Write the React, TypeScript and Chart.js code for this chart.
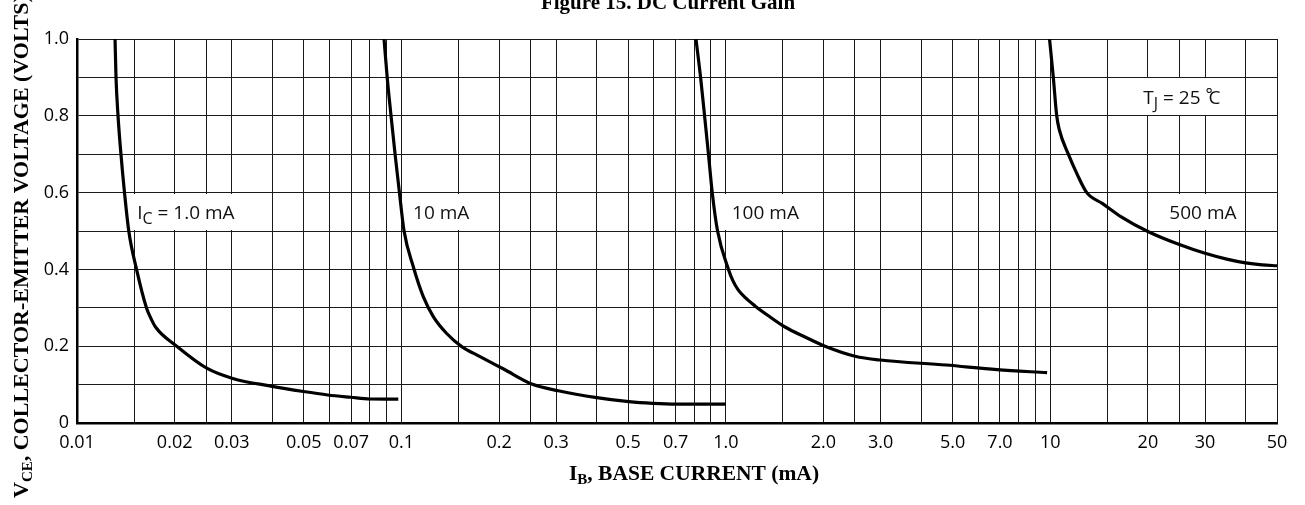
import React, { useEffect, useRef } from "react";
import { Chart, registerables } from "chart.js";

Chart.register(...registerables);

// ---------- data ----------
const xGridValues = [
  0.01, 0.015, 0.02, 0.025, 0.03, 0.04, 0.05, 0.06, 0.07, 0.08, 0.09,
  0.1, 0.15, 0.2, 0.25, 0.3, 0.4, 0.5, 0.6, 0.7, 0.8, 0.9,
  1, 1.5, 2, 2.5, 3, 4, 5, 6, 7, 8, 9,
  10, 15, 20, 25, 30, 40, 50,
];
const xTickValues = [0.01, 0.02, 0.03, 0.05, 0.07, 0.1, 0.2, 0.3, 0.5, 0.7, 1, 2, 3, 5, 7, 10, 20, 30, 50];
const xTickLabels = ["0.01", "0.02", "0.03", "0.05", "0.07", "0.1", "0.2", "0.3", "0.5", "0.7", "1.0", "2.0", "3.0", "5.0", "7.0", "10", "20", "30", "50"];
const yTickValues = [0, 0.2, 0.4, 0.6, 0.8, 1.0];
const yTickLabels = ["0", "0.2", "0.4", "0.6", "0.8", "1.0"];

// IC = 1.0 mA
const ic1IB = [0.0131, 0.01319, 0.01338, 0.01366, 0.01401, 0.01444, 0.01526, 0.01637, 0.0168, 0.01746, 0.0203, 0.0252, 0.0302, 0.0396, 0.0499, 0.0593, 0.0698, 0.08, 0.0978];
const ic1VCE = [1.0, 0.9, 0.8, 0.7, 0.6, 0.5, 0.4, 0.3, 0.277, 0.25, 0.2, 0.142, 0.116, 0.096, 0.082, 0.073, 0.067, 0.0625, 0.062];
// IC = 10 mA
const ic10IB = [0.0884, 0.0904, 0.0929, 0.0956, 0.0986, 0.1019, 0.1088, 0.1168, 0.1254, 0.1379, 0.1534, 0.1747, 0.2072, 0.2522, 0.3045, 0.3999, 0.502, 0.5953, 0.7039, 1.0];
const ic10VCE = [1.0, 0.9, 0.8, 0.7, 0.6, 0.5, 0.407, 0.329, 0.277, 0.233, 0.199, 0.173, 0.14, 0.1016, 0.084, 0.066, 0.0555, 0.051, 0.049, 0.049];
// IC = 100 mA
const ic100IB = [0.809, 0.836, 0.86, 0.884, 0.908, 0.943, 1.019, 1.052, 1.093, 1.146, 1.23, 1.349, 1.522, 1.754, 2.022, 2.502, 2.99, 4.77, 6.855, 9.78];
const ic100VCE = [1.0, 0.9, 0.8, 0.7, 0.6, 0.5, 0.4, 0.37, 0.346, 0.327, 0.305, 0.28, 0.25, 0.224, 0.2, 0.174, 0.164, 0.151, 0.139, 0.131];
// IC = 500 mA
const ic500IB = [9.95, 10.22, 10.47, 10.67, 11.37, 12.07, 12.96, 14.5, 16.5, 20, 25, 30, 35, 40, 45, 50];
const ic500VCE = [1.0, 0.9, 0.8, 0.763, 0.7, 0.65, 0.6, 0.5714, 0.5375, 0.4987, 0.4646, 0.4419, 0.4268, 0.4169, 0.4117, 0.4095];

const titleText = "Figure 15. DC Current Gain";

// ---------- text annotations ----------
type Part = { t: string; k?: "sub" | "sup"; adv?: number };
type Box = { parts: Part[]; textX: number; x1: number; x2: number; yTop: number; yBot: number };

const labelBoxes: Box[] = [
  { parts: [{ t: "I" }, { t: "C", k: "sub" }, { t: " = 1.0 mA" }], textX: 0.01533, x1: 0.0145, x2: 0.037, yTop: 0.6, yBot: 0.5 },
  { parts: [{ t: "10 mA" }], textX: 0.1086, x1: 0.104, x2: 0.19, yTop: 0.6, yBot: 0.5 },
  { parts: [{ t: "100 mA" }], textX: 1.043, x1: 0.965, x2: 1.9, yTop: 0.6, yBot: 0.5 },
  { parts: [{ t: "500 mA" }], textX: 23.29, x1: 21, x2: 38, yTop: 0.6, yBot: 0.5 },
  { parts: [{ t: "T" }, { t: "J", k: "sub" }, { t: " = 25 " }, { t: "°", k: "sup", adv: 3 }, { t: "C" }], textX: 19.36, x1: 16, x2: 38, yTop: 0.9, yBot: 0.8 },
];

const SANS = '"Open Sans", "Noto Sans", sans-serif';
const SERIF = '"Liberation Serif", "Times New Roman", serif';

type Fonts = { main: string; sub: string; subDy: number; sup: string; supDy: number };

function drawRich(ctx: CanvasRenderingContext2D, parts: Part[], x: number, y: number, f: Fonts) {
  let cx = x;
  for (const p of parts) {
    ctx.font = p.k === "sub" ? f.sub : p.k === "sup" ? f.sup : f.main;
    const w = ctx.measureText(p.t).width;
    const dy = p.k === "sub" ? f.subDy : p.k === "sup" ? f.supDy : 0;
    ctx.fillText(p.t, cx, y + dy);
    cx += p.adv !== undefined ? p.adv : w;
  }
  return cx - x;
}

function measureRich(ctx: CanvasRenderingContext2D, parts: Part[], f: Fonts) {
  let w = 0;
  for (const p of parts) {
    ctx.font = p.k === "sub" ? f.sub : p.k === "sup" ? f.sup : f.main;
    w += p.adv !== undefined ? p.adv : ctx.measureText(p.t).width;
  }
  return w;
}

const annoFonts: Fonts = {
  main: `19px ${SANS}`,
  sub: `16px ${SANS}`,
  subDy: 5,
  sup: `17px ${SANS}`,
  supDy: -4,
};
const xTitleFonts: Fonts = {
  main: `bold 21.5px ${SERIF}`,
  sub: `bold 15px ${SERIF}`,
  subDy: 4,
  sup: `bold 15px ${SERIF}`,
  supDy: -6,
};
const yTitleFonts: Fonts = {
  main: `bold 22px ${SERIF}`,
  sub: `bold 15px ${SERIF}`,
  subDy: 4,
  sup: `bold 15px ${SERIF}`,
  supDy: -6,
};

const yTitleParts: Part[] = [{ t: "V" }, { t: "CE", k: "sub" }, { t: ", COLLECTOR-EMITTER VOLTAGE (VOLTS)" }];
const xTitleParts: Part[] = [{ t: "I" }, { t: "B", k: "sub" }, { t: ", BASE CURRENT (mA)" }];

const decorPlugin = {
  id: "decor",
  beforeDatasetsDraw(chart: any) {
    const { ctx, scales } = chart;
    const x = scales.x;
    const y = scales.y;
    ctx.save();
    for (const b of labelBoxes) {
      const px1 = x.getPixelForValue(b.x1);
      const px2 = x.getPixelForValue(b.x2);
      const pyT = y.getPixelForValue(b.yTop);
      const pyB = y.getPixelForValue(b.yBot);
      ctx.fillStyle = "#ffffff";
      const top = Math.round(pyT) + 1;
      const bot = Math.round(pyB) - 1;
      ctx.fillRect(px1, top, px2 - px1, bot - top);
      ctx.fillStyle = "#111";
      ctx.textBaseline = "alphabetic";
      ctx.textAlign = "left";
      drawRich(ctx, b.parts, x.getPixelForValue(b.textX), (pyT + pyB) / 2 + 7, annoFonts);
    }
    ctx.restore();
  },
  afterDraw(chart: any) {
    const { ctx, chartArea } = chart;
    ctx.save();
    ctx.fillStyle = "#000";
    ctx.textBaseline = "alphabetic";
    ctx.textAlign = "left";
    // title (partly cut at the top)
    ctx.font = `bold 21px ${SERIF}`;
    const tw = ctx.measureText(titleText).width;
    ctx.fillText(titleText, 668 - tw / 2, 9);
    // x title
    const xw = measureRich(ctx, xTitleParts, xTitleFonts);
    const xc = (chartArea.left + chartArea.right) / 2 + 17;
    drawRich(ctx, xTitleParts, xc - xw / 2, 480, xTitleFonts);
    // y title
    ctx.translate(28, 498);
    ctx.rotate(-Math.PI / 2);
    drawRich(ctx, yTitleParts, 0, 0, yTitleFonts);
    ctx.restore();
  },
};

export default function App() {
  const ref = useRef<HTMLCanvasElement | null>(null);

  useEffect(() => {
    if (!ref.current) return;
    const mk = (xs: number[], ys: number[]) => xs.map((v, i) => ({ x: v, y: ys[i] }));
    const lineStyle = {
      borderColor: "#000",
      borderWidth: 3.2,
      pointRadius: 0,
      fill: false,
      tension: 0.4,
      cubicInterpolationMode: "monotone" as const,
    };
    const chart = new Chart(ref.current, {
      type: "line",
      data: {
        datasets: [
          { label: "IC = 1.0 mA", data: mk(ic1IB, ic1VCE), ...lineStyle },
          { label: "IC = 10 mA", data: mk(ic10IB, ic10VCE), ...lineStyle },
          { label: "IC = 100 mA", data: mk(ic100IB, ic100VCE), ...lineStyle },
          { label: "IC = 500 mA", data: mk(ic500IB, ic500VCE), ...lineStyle },
        ],
      },
      options: {
        animation: false,
        responsive: false,
        devicePixelRatio: 1,
        layout: { padding: { left: 0, top: 39, right: 28, bottom: 0 } },
        plugins: {
          legend: { display: false },
          tooltip: { enabled: false },
          title: { display: false },
        },
        scales: {
          x: {
            type: "logarithmic",
            min: 0.01,
            max: 50,
            afterBuildTicks: (scale: any) => {
              scale.ticks = xGridValues.map((v) => ({ value: v }));
            },
            afterFit: (scale: any) => {
              scale.height = 82;
              scale.paddingLeft = 0;
              scale.paddingRight = 0;
            },
            grid: { color: "#1a1a1a", lineWidth: 1, drawTicks: false },
            border: { display: true, color: "#000", width: 2.5 },
            ticks: {
              autoSkip: false,
              maxRotation: 0,
              minRotation: 0,
              padding: 9,
              color: "#000",
              font: { family: SANS, size: 18 },
              callback: (value: any) => {
                const v = Number(value);
                const idx = xTickValues.findIndex((t) => Math.abs(t - v) / t < 1e-6);
                return idx >= 0 ? xTickLabels[idx] : "";
              },
            },
          },
          y: {
            type: "linear",
            min: 0,
            max: 1,
            afterFit: (scale: any) => {
              scale.width = 77;
              scale.paddingTop = 0;
              scale.paddingBottom = 0;
            },
            grid: { color: "#1a1a1a", lineWidth: 1, drawTicks: false },
            border: { display: true, color: "#000", width: 2.5 },
            ticks: {
              stepSize: 0.1,
              padding: 8,
              color: "#000",
              font: { family: SANS, size: 18 },
              callback: (value: any) => {
                const v = Number(value);
                const idx = yTickValues.findIndex((t) => Math.abs(t - v) < 1e-6);
                return idx >= 0 ? yTickLabels[idx] : "";
              },
            },
          },
        },
      },
      plugins: [decorPlugin],
    } as any);
    return () => chart.destroy();
  }, []);

  return (
    <div style={{ position: "absolute", left: 0, top: 0, width: 1305, height: 505, background: "#fff" }}>
      <canvas ref={ref} width={1305} height={505} style={{ display: "block", width: 1305, height: 505 }} />
    </div>
  );
}
